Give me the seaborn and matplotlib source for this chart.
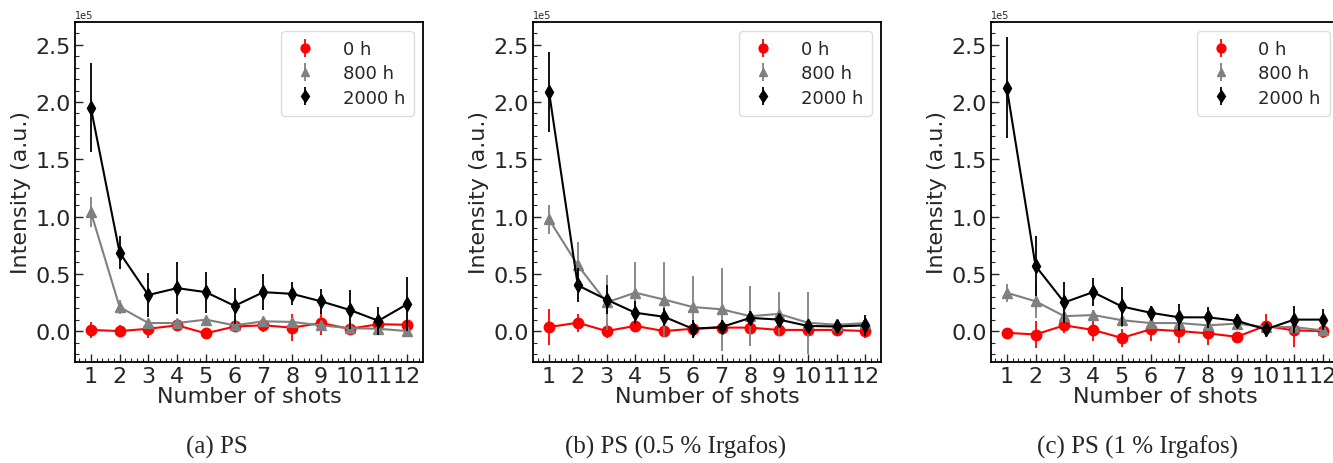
import numpy as np
import pandas as pd
import matplotlib
matplotlib.use('Agg')
import matplotlib.pyplot as plt
import seaborn as sns
from matplotlib.ticker import MultipleLocator, AutoMinorLocator

shots = list(range(1, 13))
hours = ['0 h', '800 h', '2000 h']
captions = ['(a) PS', '(b) PS (0.5 % Irgafos)', '(c) PS (1 % Irgafos)']

# values in units of 1e5 (a.u.)
ps_0h = [0.01, 0.0, 0.02, 0.05, -0.02, 0.04, 0.05, 0.03, 0.07, 0.02, 0.06, 0.055]
ps_0h_err = [0.07, 0.05, 0.08, 0.05, 0.03, 0.03, 0.06, 0.12, 0.10, 0.04, 0.03, 0.03]
ps_800h = [1.04, 0.21, 0.07, 0.07, 0.10, 0.05, 0.085, 0.08, 0.05, 0.025, 0.02, 0.0]
ps_800h_err = [0.13, 0.06, 0.03, 0.03, 0.03, 0.02, 0.04, 0.03, 0.03, 0.02, 0.02, 0.02]
ps_2000h = [1.95, 0.685, 0.315, 0.375, 0.34, 0.22, 0.34, 0.325, 0.26, 0.185, 0.09, 0.235]
ps_2000h_err = [0.39, 0.145, 0.19, 0.23, 0.18, 0.16, 0.16, 0.10, 0.11, 0.17, 0.12, 0.235]

ps05_0h = [0.035, 0.073, 0.0, 0.045, 0.0, 0.02, 0.03, 0.03, 0.01, 0.01, 0.01, 0.0]
ps05_0h_err = [0.16, 0.08, 0.06, 0.05, 0.04, 0.05, 0.05, 0.04, 0.05, 0.04, 0.03, 0.06]
ps05_800h = [0.975, 0.575, 0.25, 0.335, 0.275, 0.21, 0.19, 0.13, 0.15, 0.073, 0.055, 0.07]
ps05_800h_err = [0.125, 0.20, 0.24, 0.27, 0.33, 0.27, 0.36, 0.26, 0.19, 0.27, 0.03, 0.03]
ps05_2000h = [2.09, 0.40, 0.275, 0.16, 0.125, 0.02, 0.035, 0.115, 0.10, 0.045, 0.04, 0.05]
ps05_2000h_err = [0.35, 0.15, 0.13, 0.10, 0.08, 0.08, 0.06, 0.06, 0.05, 0.04, 0.03, 0.09]

ps1_0h = [-0.015, -0.03, 0.05, 0.01, -0.06, 0.015, 0.0, -0.02, -0.05, 0.045, 0.005, 0.0]
ps1_0h_err = [0.02, 0.12, 0.07, 0.10, 0.08, 0.10, 0.10, 0.10, 0.04, 0.10, 0.14, 0.06]
ps1_800h = [0.335, 0.26, 0.13, 0.14, 0.095, 0.07, 0.07, 0.05, 0.065, 0.035, 0.035, 0.005]
ps1_800h_err = [0.08, 0.15, 0.04, 0.04, 0.06, 0.03, 0.03, 0.03, 0.03, 0.03, 0.05, 0.04]
ps1_2000h = [2.125, 0.57, 0.25, 0.34, 0.215, 0.16, 0.12, 0.12, 0.09, 0.015, 0.10, 0.10]
ps1_2000h_err = [0.44, 0.26, 0.18, 0.12, 0.17, 0.06, 0.12, 0.09, 0.06, 0.06, 0.12, 0.09]

panels = [
    [(ps_0h, ps_0h_err), (ps_800h, ps_800h_err), (ps_2000h, ps_2000h_err)],
    [(ps05_0h, ps05_0h_err), (ps05_800h, ps05_800h_err), (ps05_2000h, ps05_2000h_err)],
    [(ps1_0h, ps1_0h_err), (ps1_800h, ps1_800h_err), (ps1_2000h, ps1_2000h_err)],
]

colors = ['red', 'gray', 'black']
markers = ['o', '^', 'd']

sns.set_style('ticks')
plt.rcParams['font.family'] = ['DejaVu Sans']
plt.rcParams['xtick.direction'] = 'in'
plt.rcParams['ytick.direction'] = 'in'

fig = plt.figure(figsize=(13.33, 4.64), dpi=100)
lefts = [0.0563, 0.400, 0.7434]
caption_x = [0.1628, 0.5071, 0.8537]  # subfigure captions, not centred on axes

for p, left in enumerate(lefts):
    ax = fig.add_axes([left, 0.2177, 0.261, 0.733])
    for s, (vals, errs) in enumerate(panels[p]):
        df = pd.DataFrame({'shot': shots,
                           'intensity': np.array(vals) * 1e5,
                           'err': np.array(errs) * 1e5})
        sns.lineplot(data=df, x='shot', y='intensity', color=colors[s],
                     marker=markers[s], markersize=7.5, markeredgewidth=0,
                     linewidth=1.5, legend=False, ax=ax, zorder=2 + s)
        ax.errorbar(df['shot'], df['intensity'], yerr=df['err'], fmt=markers[s],
                    color=colors[s], markersize=7.5, elinewidth=1.3,
                    label=hours[s], zorder=2 + s)
    ax.set_xlim(0.45, 12.55)
    ax.set_ylim(-0.27e5, 2.7e5)
    ax.set_xticks(shots)
    ax.xaxis.set_minor_locator(AutoMinorLocator(5))
    ax.yaxis.set_major_locator(MultipleLocator(0.5e5))
    ax.yaxis.set_minor_locator(AutoMinorLocator(5))
    ax.ticklabel_format(style='sci', axis='y', scilimits=(0, 0))
    ax.yaxis.get_offset_text().set_fontsize(7)
    ax.tick_params(which='major', length=6, width=1, labelsize=16, pad=3)
    ax.tick_params(which='minor', length=3, width=0.8)
    for sp in ax.spines.values():
        sp.set_linewidth(1.3)
        sp.set_color('black')
    ax.set_xlabel('Number of shots', fontsize=16, labelpad=0)
    ax.set_ylabel('Intensity (a.u.)', fontsize=16, labelpad=3)
    ax.legend(loc='upper right', fontsize=13, handlelength=1.6, handletextpad=1.3,
              borderpad=0.5, labelspacing=0.35, markerscale=0.85,
              framealpha=1, edgecolor='#dddddd', borderaxespad=0.5)
    fig.text(caption_x[p], 0.0366, captions[p], ha='center', va='center',
             fontsize=18, family='Liberation Serif')

fig.savefig('out.png', dpi=100)
